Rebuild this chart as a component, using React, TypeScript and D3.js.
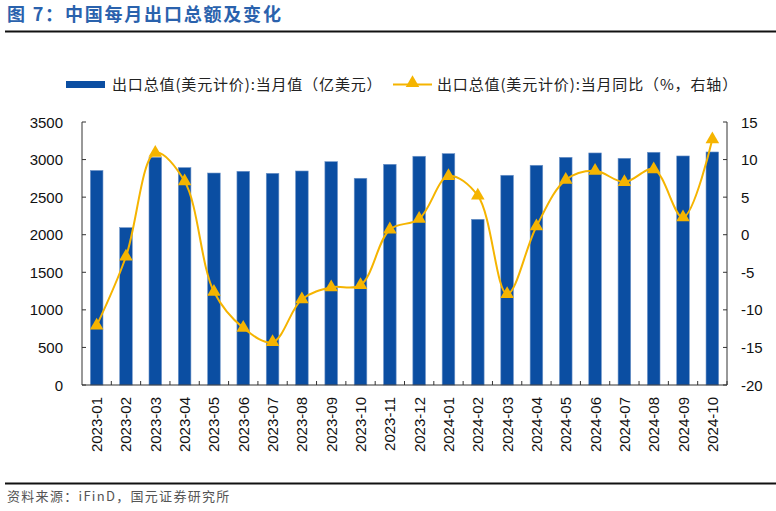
import React from "react";
import * as d3 from "d3";

const months = [
  "2023-01","2023-02","2023-03","2023-04","2023-05","2023-06","2023-07","2023-08","2023-09","2023-10","2023-11","2023-12",
  "2024-01","2024-02","2024-03","2024-04","2024-05","2024-06","2024-07","2024-08","2024-09","2024-10",
];
const exportValues = [
  2855, 2094, 3030, 2893, 2821, 2844, 2817, 2848, 2972, 2751, 2937, 3044,
  3079, 2205, 2791, 2924, 3030, 3088, 3017, 3097, 3048, 3101,
];
const yoyValues = [
  -12.1, -2.9, 10.9, 7.1, -7.6, -12.4, -14.3, -8.6, -7.0, -6.7, 0.7, 2.1,
  7.8, 5.2, -7.9, 1.1, 7.3, 8.5, 7.0, 8.7, 2.3, 12.7,
];
const leftTicks = [0, 500, 1000, 1500, 2000, 2500, 3000, 3500];
const rightTicks = [-20, -15, -10, -5, 0, 5, 10, 15];

const titleText = "图 7：中国每月出口总额及变化";
const legendBar = "出口总值(美元计价):当月值（亿美元）";
const legendLine = "出口总值(美元计价):当月同比（%，右轴）";
const sourceText = "资料来源：iFinD，国元证券研究所";

const W = 776;
const H = 511;
const L = 82;
const R = 727;
const T = 122;
const B = 385;
const BLUE = "#0b4ea2";
const GOLD = "#f5b400";
const AXIS = "#333";
const CJK = "'Noto Sans CJK SC', 'Noto Sans', sans-serif";
const NUM = "'Liberation Sans', Arial, sans-serif";

export default function App() {
  const x = d3.scaleBand<string>().domain(months).range([L, R]).paddingInner(0.57).paddingOuter(0.285);
  const yL = d3.scaleLinear().domain([0, 3500]).range([B, T]);
  const yR = d3.scaleLinear().domain([-20, 15]).range([B, T]);
  const step = x.step();
  const cx = (m: string) => (x(m) as number) + x.bandwidth() / 2;

  const pts: [number, number][] = months.map((m, i) => [cx(m), yR(yoyValues[i])]);
  const lineGen = d3.line().curve(d3.curveCatmullRom.alpha(0.5));
  const tri = d3.symbol().type(d3.symbolTriangle).size(80)() as string;

  return (
    <svg width={W} height={H} style={{ position: "absolute", left: 0, top: 0, background: "#fff" }}>
      <rect x={0} y={0} width={W} height={H} fill="#fff" />
      {/* title */}
      <text x={7} y={21} fill="#2a62ad" fontFamily={CJK} fontWeight="bold" fontSize={18} letterSpacing={1.8}>
        {titleText}
      </text>
      <line x1={5} x2={W} y1={31.5} y2={31.5} stroke="#111" strokeWidth={2} />

      {/* legend */}
      <rect x={66} y={81} width={39} height={7} fill={BLUE} />
      <text x={112} y={90} fontFamily={CJK} fontSize={15} fill="#222" letterSpacing={0.85}>{legendBar}</text>
      <line x1={393} x2={432} y1={84.5} y2={84.5} stroke={GOLD} strokeWidth={2} />
      <path d={tri} transform="translate(412.5,83)" fill={GOLD} />
      <text x={437} y={90} fontFamily={CJK} fontSize={15} fill="#222" letterSpacing={0.85}>{legendLine}</text>

      {/* bars */}
      {months.map((m, i) => (
        <rect
          key={m}
          x={x(m)}
          y={yL(exportValues[i])}
          width={x.bandwidth()}
          height={B - yL(exportValues[i])}
          fill={BLUE}
          stroke="#6f95c9"
          strokeWidth={0.6}
        />
      ))}

      {/* axes */}
      <line x1={L} x2={L} y1={T} y2={B} stroke={AXIS} strokeWidth={1} />
      <line x1={R} x2={R} y1={T} y2={B} stroke={AXIS} strokeWidth={1} />
      <line x1={L} x2={R} y1={B} y2={B} stroke={AXIS} strokeWidth={1} />
      {leftTicks.map((t) => (
        <g key={"l" + t}>
          <line x1={L} x2={L + 4} y1={yL(t)} y2={yL(t)} stroke={AXIS} />
          <text x={63} y={yL(t) + 5.5} textAnchor="end" fontFamily={NUM} fontSize={15} fill="#111">{t}</text>
        </g>
      ))}
      {rightTicks.map((t) => (
        <g key={"r" + t}>
          <line x1={R - 4} x2={R} y1={yR(t)} y2={yR(t)} stroke={AXIS} />
          <text x={741} y={yR(t) + 5.5} textAnchor="start" fontFamily={NUM} fontSize={15} fill="#111">{t}</text>
        </g>
      ))}
      {months.map((m, i) => (
        <line key={"xt" + m} x1={L + step * (i + 1)} x2={L + step * (i + 1)} y1={B} y2={B - 4} stroke={AXIS} />
      ))}
      {months.map((m) => (
        <text
          key={"xl" + m}
          transform={`translate(${cx(m) + 5.5},${B + 12}) rotate(-90)`}
          textAnchor="end"
          fontFamily={NUM}
          fontSize={15}
          fill="#111"
        >
          {m}
        </text>
      ))}

      {/* line */}
      <path d={lineGen(pts) as string} fill="none" stroke={GOLD} strokeWidth={2} />
      {pts.map((p, i) => (
        <path key={"mk" + i} d={tri} transform={`translate(${p[0]},${p[1]})`} fill={GOLD} />
      ))}

      {/* footer */}
      <line x1={5} x2={W} y1={483.5} y2={483.5} stroke="#111" strokeWidth={2} />
      <text x={7} y={501} fontFamily={CJK} fontSize={13} fill="#555" letterSpacing={1.3}>{sourceText}</text>
    </svg>
  );
}
